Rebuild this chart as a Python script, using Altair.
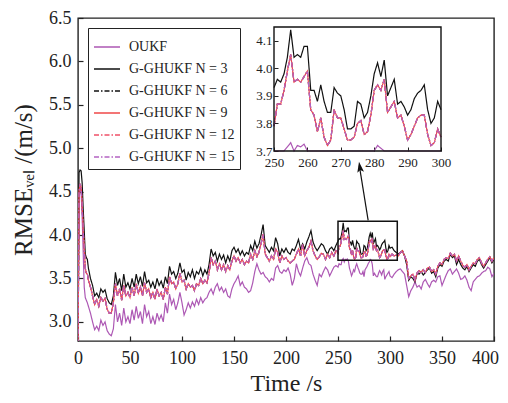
import altair as alt
import pandas as pd

# ---------------- data ----------------
time_a = list(range(0, 11))
time_b = list(range(12, 250, 2))
time_c = list(range(250, 301))
time_d = list(range(302, 401, 2))
time_s = time_a + time_b + time_c + time_d

oukf_a = [2.5, 4.45, 4.55, 4.50, 4.20, 3.80, 3.40, 3.28, 3.25, 3.22, 3.18]
oukf_b = [
    3.10, 3.00, 2.91, 2.95, 2.90, 3.02, 2.96, 3.00, 2.90, 2.86,
    2.84, 2.92, 3.20, 3.00, 3.10, 2.96, 3.16, 3.00, 3.06, 2.98,
    3.14, 3.02, 3.18, 3.04, 3.12, 2.98, 3.20, 3.06, 3.12, 2.98,
    3.06, 2.97, 3.10, 3.02, 3.08, 3.00, 3.22, 3.10, 3.32, 3.20,
    3.26, 3.14, 3.22, 3.34, 3.22, 3.08, 3.14, 3.22, 3.16, 3.23,
    3.18, 3.26, 3.20, 3.28, 3.22, 3.26, 3.28, 3.34, 3.38, 3.32,
    3.40, 3.44, 3.36, 3.40, 3.34, 3.38, 3.30, 3.28, 3.38, 3.44,
    3.48, 3.53, 3.42, 3.46, 3.40, 3.38, 3.34, 3.36, 3.45, 3.58,
    3.67, 3.60, 3.55, 3.57, 3.52, 3.50, 3.46, 3.50, 3.48, 3.62,
    3.65, 3.58, 3.56, 3.60, 3.58, 3.62, 3.55, 3.42, 3.50, 3.67,
    3.58, 3.53, 3.62, 3.70, 3.74, 3.67, 3.65, 3.55, 3.48, 3.42,
    3.55, 3.52, 3.58, 3.63, 3.60, 3.53, 3.58, 3.63, 3.65]
oukf_c = [
    3.63, 3.67, 3.66, 3.66, 3.715, 3.73, 3.69, 3.72, 3.715, 3.725,
    3.70, 3.62, 3.58, 3.53, 3.56, 3.60, 3.58, 3.64, 3.67, 3.63,
    3.60, 3.56, 3.55, 3.55, 3.58, 3.52, 3.60, 3.62, 3.64, 3.67,
    3.69, 3.72, 3.71, 3.66, 3.53, 3.56, 3.54, 3.52, 3.52, 3.56,
    3.59, 3.57, 3.54, 3.58, 3.60, 3.49, 3.52, 3.54, 3.56, 3.58,
    3.53]
oukf_d = [
    3.51, 3.55, 3.58, 3.60, 3.61, 3.58, 3.55, 3.42, 3.29, 3.36,
    3.40, 3.46, 3.40, 3.42, 3.38, 3.46, 3.49, 3.44, 3.40, 3.46,
    3.48, 3.46, 3.52, 3.53, 3.42, 3.48, 3.54, 3.59, 3.61, 3.55,
    3.58, 3.61, 3.56, 3.49, 3.50, 3.53, 3.48, 3.40, 3.36, 3.46,
    3.49, 3.52, 3.53, 3.56, 3.58, 3.59, 3.63, 3.61, 3.52, 3.56]

n3_a = [2.5, 4.72, 4.75, 4.74, 4.60, 4.30, 4.05, 3.78, 3.74, 3.72, 3.62]
n3_b = [
    3.50, 3.42, 3.30, 3.33, 3.28, 3.38, 3.34, 3.37, 3.27, 3.22,
    3.20, 3.30, 3.57, 3.42, 3.50, 3.36, 3.55, 3.40, 3.45, 3.38,
    3.50, 3.40, 3.55, 3.44, 3.52, 3.41, 3.58, 3.45, 3.48, 3.40,
    3.46, 3.38, 3.50, 3.42, 3.47, 3.39, 3.52, 3.44, 3.64, 3.55,
    3.58, 3.50, 3.56, 3.68, 3.57, 3.60, 3.48, 3.57, 3.52, 3.60,
    3.50, 3.58, 3.55, 3.62, 3.53, 3.60, 3.55, 3.66, 3.84, 3.76,
    3.80, 3.70, 3.78, 3.72, 3.77, 3.68, 3.76, 3.70, 3.82, 3.86,
    3.80, 3.84, 3.77, 3.82, 3.76, 3.80, 3.78, 3.88, 3.82, 3.93,
    3.85, 3.90, 4.00, 4.12, 3.88, 3.84, 3.80, 3.86, 3.82, 3.97,
    3.90, 3.76, 3.84, 3.80, 3.85, 3.80, 3.78, 3.84, 3.82, 3.88,
    3.95, 3.84, 3.90, 3.84, 3.92, 3.98, 4.05, 3.92, 3.86, 3.82,
    3.86, 3.90, 3.88, 3.82, 3.78, 3.84, 3.86, 3.82, 3.88]
n3_c = [
    3.93, 3.96, 3.95, 3.98, 4.04, 4.14, 4.04, 4.05, 4.04, 4.08,
    4.08, 3.92, 3.92, 3.88, 3.94, 3.88, 3.84, 3.84, 3.93, 3.91,
    3.90, 3.85, 3.78, 3.78, 3.79, 3.88, 3.87, 3.82, 3.84, 3.90,
    3.98, 4.02, 3.97, 4.03, 3.90, 3.93, 3.96, 3.87, 3.88, 3.86,
    3.83, 3.85, 3.89, 3.91, 3.92, 3.94, 3.85, 3.80, 3.82, 3.88,
    3.85]
n3_d = [
    3.86, 3.82, 3.80, 3.78, 3.80, 3.82, 3.76, 3.66, 3.48, 3.52,
    3.50, 3.46, 3.56, 3.55, 3.58, 3.54, 3.57, 3.60, 3.62, 3.56,
    3.58, 3.52, 3.62, 3.66, 3.64, 3.70, 3.72, 3.70, 3.78, 3.74,
    3.76, 3.66, 3.72, 3.66, 3.62, 3.60, 3.64, 3.58, 3.62, 3.66,
    3.64, 3.70, 3.72, 3.66, 3.62, 3.66, 3.70, 3.74, 3.68, 3.72]

# N = 6, 9, 12, 15 curves practically coincide
nx_a = [2.5, 4.50, 4.59, 4.55, 4.35, 4.05, 3.85, 3.62, 3.56, 3.55, 3.48]
nx_b = [
    3.40, 3.30, 3.20, 3.26, 3.18, 3.28, 3.24, 3.27, 3.15, 3.10,
    3.10, 3.22, 3.44, 3.30, 3.38, 3.25, 3.42, 3.30, 3.34, 3.28,
    3.40, 3.30, 3.44, 3.33, 3.40, 3.30, 3.45, 3.34, 3.38, 3.28,
    3.34, 3.26, 3.38, 3.30, 3.34, 3.26, 3.40, 3.32, 3.52, 3.44,
    3.46, 3.38, 3.44, 3.56, 3.46, 3.48, 3.38, 3.44, 3.40, 3.42,
    3.36, 3.44, 3.42, 3.50, 3.44, 3.48, 3.45, 3.56, 3.74, 3.66,
    3.70, 3.60, 3.67, 3.60, 3.66, 3.58, 3.65, 3.60, 3.70, 3.76,
    3.70, 3.74, 3.68, 3.72, 3.66, 3.70, 3.68, 3.78, 3.72, 3.82,
    3.75, 3.80, 3.90, 4.01, 3.78, 3.74, 3.70, 3.76, 3.72, 3.84,
    3.80, 3.68, 3.76, 3.72, 3.74, 3.70, 3.68, 3.70, 3.72, 3.78,
    3.84, 3.76, 3.89, 3.76, 3.82, 3.86, 3.93, 3.82, 3.76, 3.72,
    3.75, 3.79, 3.78, 3.72, 3.78, 3.74, 3.80, 3.76, 3.82]
nx_c = [
    3.79, 3.87, 3.87, 3.92, 3.99, 4.05, 3.95, 3.96, 3.95, 3.97,
    3.99, 3.85, 3.83, 3.77, 3.82, 3.75, 3.72, 3.74, 3.85, 3.82,
    3.82, 3.78, 3.74, 3.74, 3.75, 3.80, 3.81, 3.76, 3.77, 3.83,
    3.92, 3.94, 3.92, 3.96, 3.84, 3.86, 3.88, 3.82, 3.83, 3.79,
    3.74, 3.76, 3.79, 3.82, 3.83, 3.83, 3.76, 3.72, 3.73, 3.78,
    3.75]
nx_d = [
    3.78, 3.76, 3.77, 3.76, 3.80, 3.82, 3.76, 3.70, 3.50, 3.53,
    3.55, 3.48, 3.56, 3.59, 3.57, 3.60, 3.57, 3.62, 3.63, 3.58,
    3.60, 3.55, 3.64, 3.68, 3.66, 3.72, 3.74, 3.73, 3.79, 3.76,
    3.78, 3.70, 3.76, 3.70, 3.65, 3.63, 3.66, 3.60, 3.64, 3.68,
    3.67, 3.72, 3.74, 3.68, 3.64, 3.68, 3.72, 3.75, 3.70, 3.74]

oukf = oukf_a + oukf_b + oukf_c + oukf_d
ghukf_n3 = n3_a + n3_b + n3_c + n3_d
ghukf_nx = nx_a + nx_b + nx_c + nx_d

series_names = ["OUKF", "G-GHUKF N = 3", "G-GHUKF N = 6",
                "G-GHUKF N = 9", "G-GHUKF N = 12", "G-GHUKF N = 15"]
series_values = [oukf, ghukf_n3, ghukf_nx, ghukf_nx, ghukf_nx, ghukf_nx]
series_colors = ["#ad58b4", "#111111", "#111111", "#f04848", "#f05068", "#b463c2"]
series_dashes = [[1, 0], [1, 0], [5, 2, 1.5, 2], [1, 0], [5, 2, 1.5, 2], [5, 2, 1.5, 2]]

x_ticks = [0, 50, 100, 150, 200, 250, 300, 350, 400]
y_ticks = [3.0, 3.5, 4.0, 4.5, 5.0, 5.5, 6.0, 6.5]
inset_x_ticks = [250, 260, 270, 280, 290, 300]
inset_y_ticks = [3.7, 3.8, 3.9, 4.0, 4.1]

zoom_box = {"x0": [250], "x1": [307], "y0": [3.71], "y1": [4.16]}
arrow_line = {"x0": [279.0], "y0": [4.17], "x1": [270.5], "y1": [4.80]}
arrow_head = {"hx": [271.1], "hy": [4.775]}

rows = []
for name, vals in zip(series_names, series_values):
    for t, v in zip(time_s, vals):
        rows.append({"t": t, "rmse": v, "series": name})
df = pd.DataFrame(rows)
inset_df = df[(df["t"] >= 250) & (df["t"] <= 300)]

# ---------------- style ----------------
FONT = "Liberation Serif"
INK = "#222222"
W, H = 416, 323

x_scale = alt.Scale(domain=[0, 400], nice=False, zero=False)
y_scale = alt.Scale(domain=[2.78, 6.5], nice=False, zero=False)
ix_scale = alt.Scale(domain=[250, 300], range=[196, 363], nice=False, zero=False)
iy_scale = alt.Scale(domain=[3.7, 4.15], range=[133, 9], nice=False, zero=False, clamp=True)

last_label_shift = {"condition": {"test": "datum.value == 400", "value": -9}, "value": 0}

x_axis = alt.Axis(title="Time /s", values=x_ticks, orient="bottom", offset=-5, tickSize=5,
                  domain=False, grid=False, labelFlush=False, labelOverlap=False,
                  labelOffset=last_label_shift,
                  labelFont=FONT, labelFontSize=18, labelColor=INK, labelPadding=8,
                  titleFont=FONT, titleFontSize=24, titleFontWeight="normal", titleColor=INK,
                  titlePadding=4, tickColor=INK, tickWidth=1.2)
y_axis = alt.Axis(title="RMSEᵥₑₗ /(m/s)", values=y_ticks, format=".1f", orient="left",
                  offset=-5, tickSize=5, domain=False, grid=False, labelFlush=False,
                  labelOverlap=False, labelFont=FONT, labelFontSize=18, labelColor=INK,
                  labelPadding=7, titleFont=FONT, titleFontSize=25, titleFontWeight="normal",
                  titleColor=INK, titlePadding=12, tickColor=INK, tickWidth=1.2)
ix_axis = alt.Axis(title=None, values=inset_x_ticks, orient="bottom", offset=-194, tickSize=4,
                   domain=False, grid=False, labelFlush=False, labelOverlap=False,
                   labelFont=FONT, labelFontSize=13, labelColor=INK, labelPadding=5,
                   tickColor=INK, tickWidth=1)
iy_axis = alt.Axis(title=None, values=inset_y_ticks, format=".1f", orient="left", offset=-200,
                   tickSize=4, domain=False, grid=False, labelFlush=False, labelOverlap=False,
                   labelFont=FONT, labelFontSize=13, labelColor=INK, labelPadding=2,
                   tickColor=INK, tickWidth=1)

legend = alt.Legend(title=None, orient="none", legendX=10, legendY=10, symbolType="stroke",
                    symbolSize=676, symbolStrokeWidth=1.5, labelFont=FONT, labelFontSize=14,
                    labelColor=INK, strokeColor=INK, fillColor="white", padding=5,
                    rowPadding=1, labelOffset=8, cornerRadius=0)
color_enc = alt.Color("series:N", scale=alt.Scale(domain=series_names, range=series_colors),
                      legend=legend)
dash_enc = alt.StrokeDash("series:N", scale=alt.Scale(domain=series_names, range=series_dashes),
                          legend=legend)


def series_line(data, name, xs, ys, xa, ya, clip):
    return alt.Chart(data).transform_filter(alt.datum.series == name).mark_line(
        strokeWidth=1.2, clip=clip).encode(
        x=alt.X("t:Q", scale=xs, axis=xa),
        y=alt.Y("rmse:Q", scale=ys, axis=ya),
        color=color_enc, strokeDash=dash_enc)


main_lines = [series_line(df, n, x_scale, y_scale, x_axis, y_axis, True) for n in series_names]

box = alt.Chart(pd.DataFrame(zoom_box)).mark_rect(
    fillOpacity=0, stroke="#111111", strokeWidth=1.5).encode(
    x=alt.X("x0:Q", scale=x_scale, axis=x_axis), x2="x1:Q",
    y=alt.Y("y0:Q", scale=y_scale, axis=y_axis), y2="y1:Q")

arrow = alt.Chart(pd.DataFrame(arrow_line)).mark_rule(
    stroke="#111111", strokeWidth=1.2).encode(
    x=alt.X("x0:Q", scale=x_scale, axis=x_axis), x2="x1:Q",
    y=alt.Y("y0:Q", scale=y_scale, axis=y_axis), y2="y1:Q")

head = alt.Chart(pd.DataFrame(arrow_head)).mark_point(
    shape="M0,-1L0.55,0.75L0,0.35L-0.55,0.75Z", filled=True, size=150, angle=351,
    color="#111111", opacity=1).encode(
    x=alt.X("hx:Q", scale=x_scale, axis=x_axis),
    y=alt.Y("hy:Q", scale=y_scale, axis=y_axis))

main = alt.layer(*main_lines, box, arrow, head)

inset_lines = [series_line(inset_df, n, ix_scale, iy_scale, ix_axis, iy_axis, False)
               for n in series_names]
inset_frame = alt.Chart(pd.DataFrame({"x0": [250], "x1": [300], "y0": [3.7], "y1": [4.15]})).mark_rect(
    fillOpacity=0, stroke="#111111", strokeWidth=1.4).encode(
    x=alt.X("x0:Q", scale=ix_scale, axis=ix_axis), x2="x1:Q",
    y=alt.Y("y0:Q", scale=iy_scale, axis=iy_axis), y2="y1:Q")
inset = alt.layer(*inset_lines, inset_frame)

chart = alt.layer(main, inset).resolve_scale(x="independent", y="independent").properties(
    width=W, height=H,
    padding={"left": 70, "top": 10, "right": 6, "bottom": 54},
    autosize=alt.AutoSizeParams(type="none"),
    background="white",
).configure_view(stroke="#222222", strokeWidth=1.4)

chart.save("out.html", embed_options={"renderer": "svg", "actions": False})
